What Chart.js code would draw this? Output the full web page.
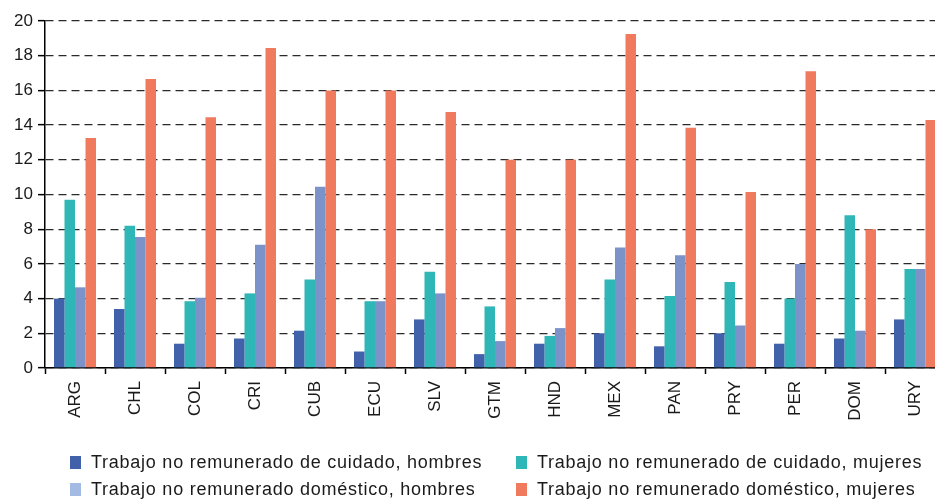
<!DOCTYPE html>
<html>
<head>
<meta charset="utf-8">
<script src="https://cdn.jsdelivr.net/npm/chart.js@4"></script>
<style>
  html, body { margin: 0; padding: 0; background: #fff; overflow: hidden; width: 935px; height: 502px; }
  #wrap { position: absolute; left: 0; top: 0; width: 960px; height: 502px; }
  #legend { position: absolute; left: 0; top: 0; width: 935px; height: 502px; pointer-events: none;
            font-family: "Liberation Sans", Arial, sans-serif; font-size: 18px; color: #1a1a1a; }
  .item { position: absolute; white-space: nowrap; line-height: 20px; letter-spacing: 0.75px; }
  .box { display: inline-block; width: 11px; height: 13px; margin-right: 10px; vertical-align: -1px; }
</style>
</head>
<body>
<div id="wrap"><canvas id="chart" width="960" height="502"></canvas></div>
<div id="legend"></div>
<script>
// Data
const countries = ['ARG', 'CHL', 'COL', 'CRI', 'CUB', 'ECU', 'SLV', 'GTM', 'HND', 'MEX', 'PAN', 'PRY', 'PER', 'DOM', 'URY']
const cuidado_hombres   = [4.0, 3.4, 1.4, 1.7, 2.15, 0.95, 2.8, 0.8, 1.4, 2.0, 1.25, 2.0, 1.4, 1.7, 2.8]
const cuidado_mujeres   = [9.7, 8.2, 3.85, 4.3, 5.1, 3.85, 5.55, 3.55, 1.85, 5.1, 4.15, 4.95, 4.0, 8.8, 5.7]
const domestico_hombres = [4.65, 7.55, 4.05, 7.1, 10.45, 3.85, 4.3, 1.55, 2.3, 6.95, 6.5, 2.45, 6.0, 2.15, 5.7]
const domestico_mujeres = [13.25, 16.65, 14.45, 18.45, 16.0, 16.0, 14.75, 12.0, 12.0, 19.25, 13.85, 10.15, 17.1, 8.0, 14.3]
const y_ticks = [0, 2, 4, 6, 8, 10, 12, 14, 16, 18, 20]

const series_labels = [
    'Trabajo no remunerado de cuidado, hombres',
    'Trabajo no remunerado de cuidado, mujeres',
    'Trabajo no remunerado doméstico, hombres',
    'Trabajo no remunerado doméstico, mujeres',
]
const series_data = [cuidado_hombres, cuidado_mujeres, domestico_hombres, domestico_mujeres]
const bar_colors = ['#4161ab', '#2fb6b6', '#7b93c8', '#ef7a5e']
const legend_colors = ['#4161ab', '#2fb6b6', '#a3bbe2', '#ef7a5e']

const font_family = '"Liberation Sans", Arial, sans-serif'

const chart = new Chart(document.getElementById('chart'), {
    type: 'bar',
    data: {
        labels: countries,
        datasets: series_data.map((d, i) => ({
            label: series_labels[i],
            data: d,
            backgroundColor: bar_colors[i],
            borderWidth: 0,
            barPercentage: 1.0,
            categoryPercentage: 0.7,
        }))
    },
    options: {
        responsive: false,
        animation: false,
        devicePixelRatio: 1,
        layout: { padding: { top: 21, right: 15, bottom: 0, left: 0 } },
        plugins: {
            legend: { display: false },
            tooltip: { enabled: false },
        },
        scales: {
            x: {
                afterFit: (scale) => { scale.height = 134 },
                grid: {
                    offset: true,
                    drawOnChartArea: false,
                    drawTicks: true,
                    tickLength: 6,
                    tickColor: '#000',
                    tickWidth: 1.5,
                },
                border: { color: '#000', width: 1.5 },
                ticks: {
                    minRotation: 90,
                    maxRotation: 90,
                    padding: 7,
                    color: '#1a1a1a',
                    font: { family: font_family, size: 17 },
                },
            },
            y: {
                min: 0,
                max: 20,
                afterFit: (scale) => { scale.width = 45 },
                afterBuildTicks: (scale) => { scale.ticks = y_ticks.map(v => ({ value: v })) },
                grid: {
                    color: '#2a2a2a',
                    lineWidth: 1.3,
                    drawTicks: true,
                    tickLength: 7,
                    tickColor: '#000',
                    tickWidth: 1.5,
                    tickBorderDash: [],
                },
                border: { color: '#000', width: 1.5, dash: [8, 5] },
                ticks: {
                    padding: 5,
                    color: '#1a1a1a',
                    font: { family: font_family, size: 17 },
                },
            },
        },
    },
})

// Legend, two columns
const legend_elem = document.getElementById('legend')
const legend_pos = [[70, 452], [516, 452], [70, 479], [516, 479]]
series_labels.forEach((label, i) => {
    const item = document.createElement('div')
    item.className = 'item'
    item.style.left = legend_pos[i][0] + 'px'
    item.style.top = legend_pos[i][1] + 'px'
    const box = document.createElement('span')
    box.className = 'box'
    box.style.background = legend_colors[i]
    item.appendChild(box)
    item.appendChild(document.createTextNode(label))
    legend_elem.appendChild(item)
})
</script>
</body>
</html>
